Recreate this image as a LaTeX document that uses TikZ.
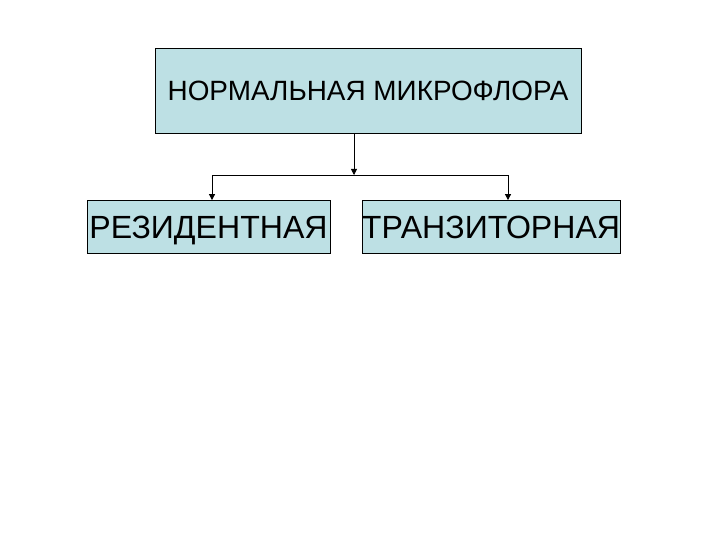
\documentclass[tikz,border=0pt]{standalone}
\usepackage{fontspec}
\setmainfont{Liberation Sans}
\usepackage{tikz}
\usetikzlibrary{arrows.meta}
\definecolor{boxfill}{RGB}{189,224,228}
\tikzset{
	flora/.style={draw=black, fill=boxfill, line width=0.8bp, inner sep=0pt, text depth=0pt},
	conn/.style={line width=0.8bp, -{Triangle[length=6bp, width=6bp]}}
}

\begin{document}
\begin{tikzpicture}[x=1bp, y=-1bp]
			%%%%% START %%%%%
			
			\useasboundingbox[fill=white] (0, 0) rectangle (720, 540);
			
			\node[flora, minimum width=426bp, minimum height=85bp, font=\fontsize{28}{32}\selectfont] (normal) at (368, 90.5) {НОРМАЛЬНАЯ МИКРОФЛОРА};
			
			\node[flora, minimum width=243bp, minimum height=53bp, font=\fontsize{32.2}{36}\selectfont] (resid) at (208.5, 227) {РЕЗИДЕНТНАЯ};
			\node[flora, minimum width=258bp, minimum height=53bp, font=\fontsize{32.2}{36}\selectfont] (trans) at (491, 227) {ТРАНЗИТОРНАЯ};
			
			\coordinate (split) at (354, 175);
			\draw[conn] (normal.south -| split) -- (split);
			\draw[conn] (split) -| ([xshift=3.5bp]resid.north);
			\draw[conn] (split) -| ([xshift=17bp]trans.north);
			
			%%%%% END %%%%%
		\end{tikzpicture}
\end{document}
